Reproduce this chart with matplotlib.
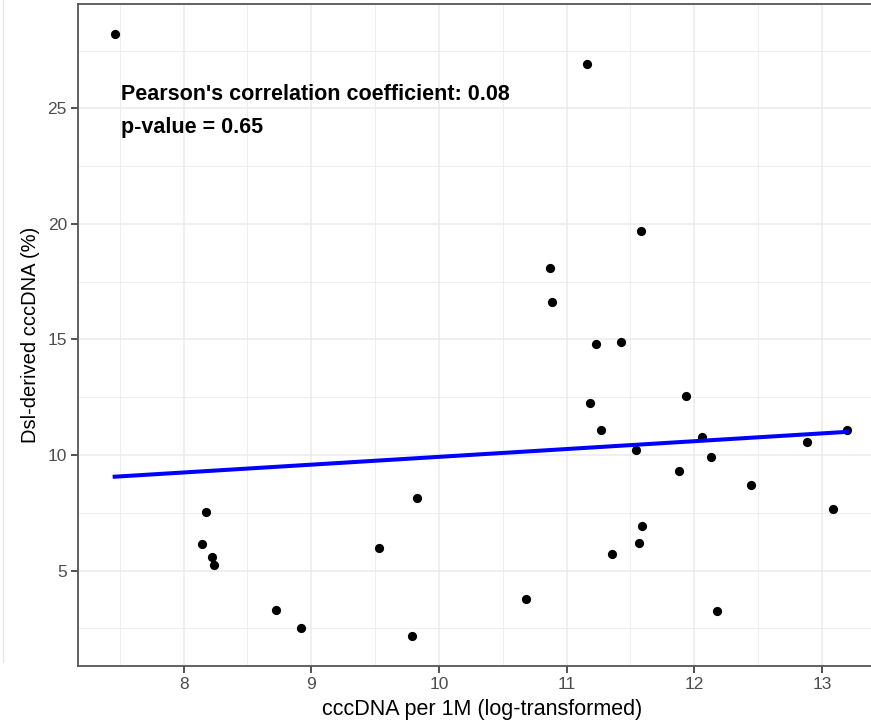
import numpy as np
import matplotlib
matplotlib.use("Agg")
import matplotlib.pyplot as plt

# cccDNA per 1M (log) vs Dsl-derived cccDNA (%)
ccc_log = [7.46, 11.16, 11.585, 10.869, 10.887, 11.229, 11.428, 11.187,
           11.933, 11.269, 13.20, 12.064, 11.543, 12.886, 12.130, 11.879,
           11.592, 11.571, 11.359, 12.177, 12.446, 13.088, 8.172, 8.144,
           8.225, 8.238, 8.720, 8.922, 9.530, 9.825, 9.793, 10.681]
dsl_pct = [28.21, 26.92, 19.69, 18.11, 16.61, 14.82, 14.90, 12.24,
           12.56, 11.09, 11.09, 10.80, 10.22, 10.58, 9.93, 9.33,
           6.93, 6.21, 5.71, 3.24, 8.72, 7.66, 7.55, 6.14,
           5.61, 5.26, 3.30, 2.53, 5.99, 8.14, 2.16, 3.76]
pearson_r = 0.08
p_value = 0.65

x = np.array(ccc_log)
y = np.array(dsl_pct)

plt.rcParams['font.family'] = ['Liberation Sans', 'DejaVu Sans']

fig = plt.figure(figsize=(8.71, 7.27), dpi=100)
ax = fig.add_axes([0.0896, 0.0834, 0.9273, 0.9111])

# ggplot-style 5% expansion
xr = x.max() - x.min()
yr = y.max() - y.min()
ax.set_xlim(x.min() - 0.05 * xr, x.max() + 0.05 * xr)
ax.set_ylim(y.min() - 0.05 * yr, y.max() + 0.05 * yr)

ax.set_xticks([8, 9, 10, 11, 12, 13])
ax.set_xticks(np.arange(7.5, 13.6, 1.0), minor=True)
ax.set_yticks([5, 10, 15, 20, 25])
ax.set_yticks(np.arange(2.5, 29.6, 5.0), minor=True)
ax.grid(True, which='major', color='#EBEBEB', linewidth=1.1, zorder=0)
ax.grid(True, which='minor', color='#EBEBEB', linewidth=0.6, zorder=0)
ax.set_axisbelow(True)

ax.scatter(x, y, s=44, color='black', zorder=3, linewidths=0)

slope, icpt = np.polyfit(x, y, 1)
xs = np.array([x.min(), x.max()])
ax.plot(xs, slope * xs + icpt, color='#0000FF', linewidth=2.9, zorder=4)

ax.text(7.512, 25.6, "Pearson's correlation coefficient: %.2f" % pearson_r,
        fontsize=15.5, fontweight='bold', va='center', ha='left', zorder=5)
ax.text(7.512, 24.15, "p-value = %.2f" % p_value,
        fontsize=15.5, fontweight='bold', va='center', ha='left', zorder=5)

for s in ax.spines.values():
    s.set_color('#555555')
    s.set_linewidth(1.3)

ax.tick_params(axis='both', which='major', length=5, width=1.2, color='#333333',
               labelsize=12.5, labelcolor='#4D4D4D', pad=3)
ax.tick_params(axis='both', which='minor', length=0)

ax.set_xlabel('cccDNA per 1M (log-transformed)', fontsize=15.5, color='black', labelpad=5)
ax.set_ylabel('Dsl-derived cccDNA (%)', fontsize=14.5, color='black', labelpad=5)

# faint left edge line
fig.add_artist(plt.Line2D([0.003, 0.003], [0.09, 1.0], color='#E6E6E6', linewidth=1.0))

fig.savefig('out.png', dpi=100)
